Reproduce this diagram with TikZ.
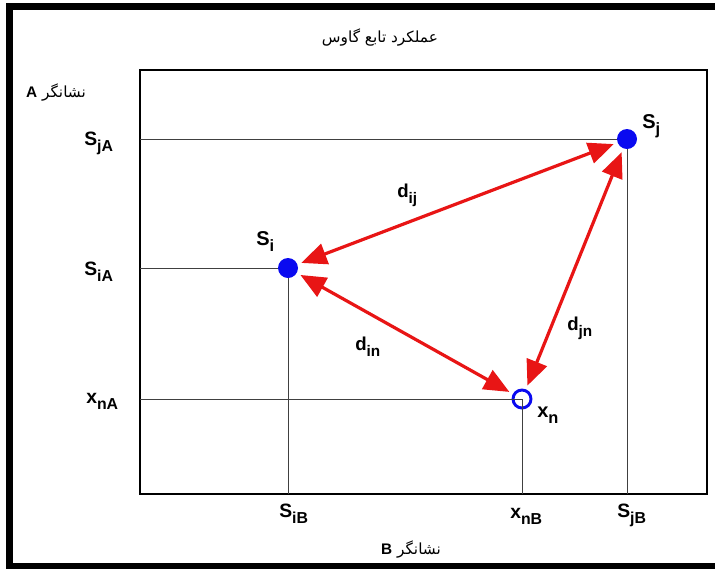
\documentclass[tikz,border=0pt]{standalone}
\usepackage{fontspec}
\setmainfont{Liberation Sans}
\newfontfamily\farsi[Script=Arabic]{DejaVu Sans}
\TeXXeTstate=1
\usepackage{xcolor}
\usepackage{tikz}
\usetikzlibrary{arrows.meta, positioning}
\definecolor{DotBlue}{HTML}{0A0AF0}
\definecolor{DistRed}{HTML}{E81515}
\newcommand{\lsub}[1]{\raisebox{-0.65ex}{\scalebox{0.82}{#1}}}

\begin{document}
\begin{tikzpicture}[
    x=0.75pt, y=-0.75pt,
    frame/.style={draw=black, line width=2.2pt},
    guide/.style={draw=black!75, line width=0.6pt},
    dot/.style={circle, fill=DotBlue, inner sep=0pt, minimum size=15pt},
    ring/.style={circle, draw=DotBlue, line width=2.2pt, inner sep=0pt, minimum size=13.5pt},
    dist/.style={{Triangle[length=19pt, width=16pt]}-{Triangle[length=19pt, width=16pt]}, DistRed, line width=2.4pt, shorten <=3pt, shorten >=3pt},
    ptlbl/.style={font=\bfseries\fontsize{15}{17}\selectfont, anchor=base west, inner sep=0pt},
    axlbl/.style={font=\bfseries\fontsize{14.5}{16}\selectfont, anchor=base west, inner sep=0pt},
    dlbl/.style={font=\bfseries\fontsize{14}{16}\selectfont, anchor=base west, inner sep=0pt},
    fa/.style={font=\farsi\fontsize{11.5}{13}\selectfont}
]
% Page and outer border
\clip (0,0) rectangle (715,569);
\draw[line width=5pt] (9.5,6.5) rectangle (760,566);

% Plot frame
\coordinate (fsw) at (140,494);
\coordinate (fne) at (707,70);
\draw[frame] (fsw) rectangle (fne);

% Points
\node[dot] (si) at (288,268) {};
\node[dot] (sj) at (627,139) {};
\node[ring] (xn) at (522,399) {};

% Guide lines to both axes
\foreach \p in {si, sj} {
    \draw[guide] (\p.west) -- (\p.west -| fsw);
    \draw[guide] (\p.south) -- (\p.south |- fsw);
}
\draw[guide] (xn.center) -- (xn.center -| fsw);
\draw[guide] (xn.center) -- (xn.center |- fsw);

% Distances
\draw[dist] (si) -- (sj);
\draw[dist] (si) -- (xn);
\draw[dist] (sj) -- (xn);

% Point labels
\node[ptlbl] (lsi) at (256,245) {S\lsub{i}};
\node[ptlbl] (lsj) at (642,128) {S\lsub{j}};
\node[ptlbl] (lxn) at (537,417) {x\lsub{n}};

% Distance labels
\node[dlbl] (ldij) at (397,197) {d\lsub{ij}};
\node[dlbl] (ldin) at (355,350) {d\lsub{in}};
\node[dlbl] (ldjn) at (567,330) {d\lsub{jn}};

% Axis labels
\node[axlbl] (sja) at (84,145) {S\lsub{jA}};
\node[axlbl] (sia) at (84,275) {S\lsub{iA}};
\node[axlbl] (xna) at (86,403) {x\lsub{nA}};
\node[axlbl] (sib) at (279,517) {S\lsub{iB}};
\node[axlbl] (xnb) at (510,518) {x\lsub{nB}};
\node[axlbl] (sjb) at (617,517) {S\lsub{jB}};

% Title and axis names
\node[fa] (title) at (380,37) {\beginR عملکرد تابع گاوس\endR};
\node[fa] (axa) at (56,92) {\beginR نشانگر {\normalfont\bfseries A}\endR};
\node[fa] (axb) at (411,549) {\beginR نشانگر {\normalfont\bfseries B}\endR};
\end{tikzpicture}
\end{document}
